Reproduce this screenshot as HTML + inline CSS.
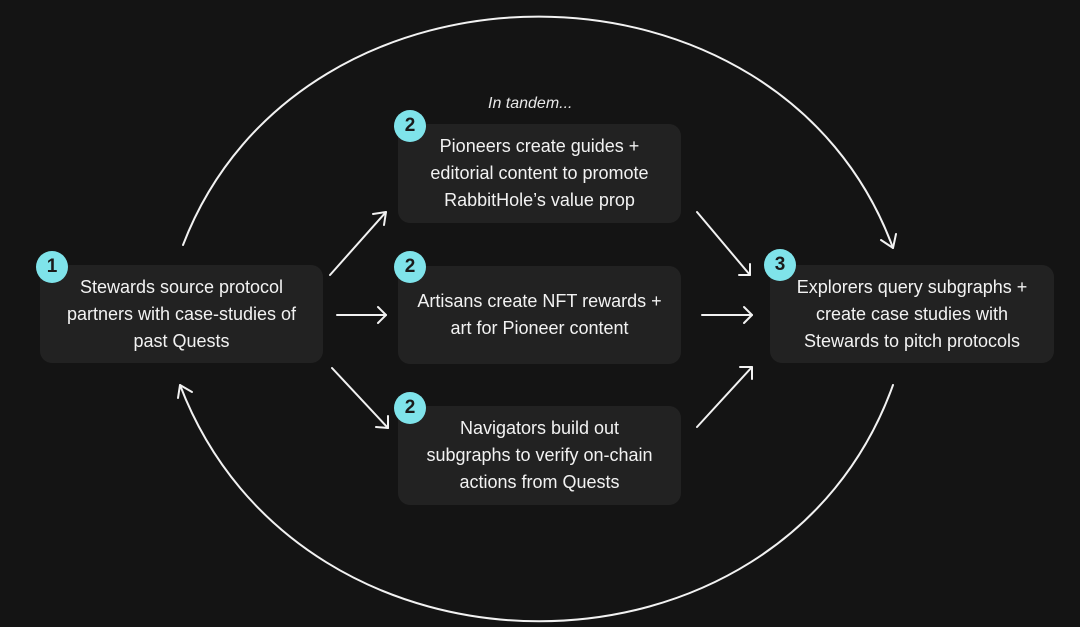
<!DOCTYPE html>
<html><head><style>
body{margin:0;width:1080px;height:627px;background:#141414;position:relative;overflow:hidden;font-family:"Liberation Sans",sans-serif;}
.box{position:absolute;background:#222222;border-radius:12px;color:#f2f2f2;font-size:18px;line-height:27px;text-align:center;display:flex;align-items:center;justify-content:center;white-space:nowrap;}
.c{position:absolute;width:32px;height:32px;border-radius:50%;background:#7fe3ea;color:#1a1a1a;font-weight:bold;font-size:19px;line-height:32px;text-align:center;}
svg{position:absolute;left:0;top:0}
</style></head><body>
<svg width="1080" height="627" fill="none" stroke="#f2f2f2" stroke-width="2" stroke-linecap="round" stroke-linejoin="round">
<path d="M183,245 C300,-60 780,-60 893,248"/><path d="M881,240 L893,248 L896,234"/>
<path d="M893,385 C780,700 300,700 180,385"/><path d="M178,398 L180,385 L192,392"/>
<path d="M330,275 L386,212"/><path d="M373,214 L386,212 L384,225"/>
<path d="M337,315 L386,315"/><path d="M378,307 L386,315 L378,323"/>
<path d="M332,368 L388,428"/><path d="M376,427 L388,428 L388,416"/>
<path d="M697,212 L750,275"/><path d="M739,275 L750,275 L750,264"/>
<path d="M702,315 L752,315"/><path d="M744,307 L752,315 L744,323"/>
<path d="M697,427 L752,367"/><path d="M740,367 L752,367 L752,379"/>
</svg>
<div style="position:absolute;left:488px;top:95px;color:#e8e8e8;font-style:italic;font-size:16px">In tandem...</div>
<div class="box" style="left:40px;top:265px;width:283px;height:98px">Stewards source protocol<br>partners with case-studies of<br>past Quests</div>
<div class="box" style="left:398px;top:124px;width:283px;height:99px">Pioneers create guides +<br>editorial content to promote<br>RabbitHole’s value prop</div>
<div class="box" style="left:398px;top:266px;width:283px;height:98px">Artisans create NFT rewards +<br>art for Pioneer content</div>
<div class="box" style="left:398px;top:406px;width:283px;height:99px">Navigators build out<br>subgraphs to verify on-chain<br>actions from Quests</div>
<div class="box" style="left:770px;top:265px;width:284px;height:98px">Explorers query subgraphs +<br>create case studies with<br>Stewards to pitch protocols</div>
<div class="c" style="left:36px;top:251px">1</div>
<div class="c" style="left:394px;top:110px">2</div>
<div class="c" style="left:394px;top:251px">2</div>
<div class="c" style="left:394px;top:392px">2</div>
<div class="c" style="left:764px;top:249px">3</div>
</body></html>
